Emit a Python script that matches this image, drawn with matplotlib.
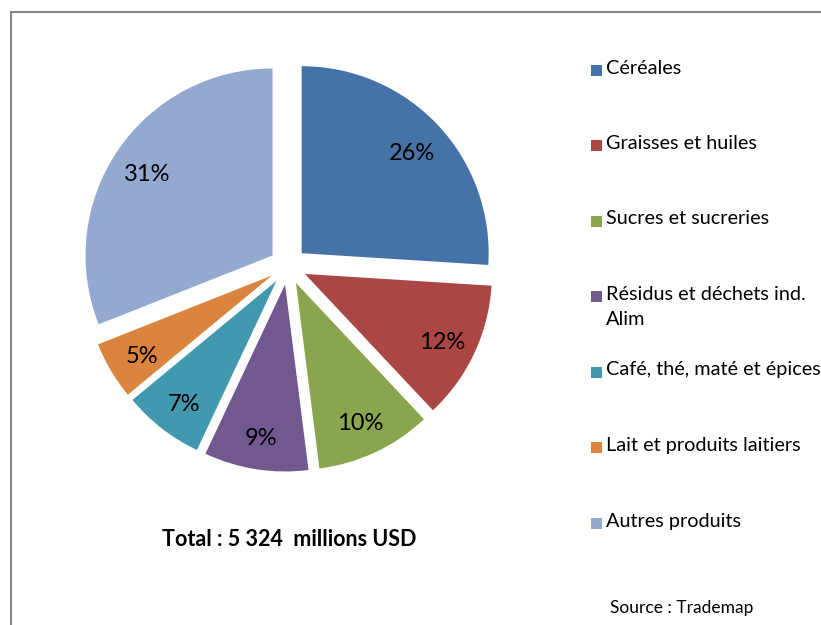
import matplotlib.pyplot as plt
from matplotlib.patches import Rectangle

categories = ["Céréales", "Graisses et huiles", "Sucres et sucreries",
              "Résidus et déchets ind.\nAlim", "Café, thé, maté et épices",
              "Lait et produits laitiers", "Autres produits"]
shares = [26, 12, 10, 9, 7, 5, 31]
colors = ["#4572A7", "#AA4643", "#89A54E", "#71588F", "#4198AF", "#DB843D", "#93A9CF"]

plt.rcParams['font.family'] = ['Lato', 'DejaVu Sans']

W, H = 821, 625
fig = plt.figure(figsize=(W / 100, H / 100), dpi=100)

# pie centre (px) and radius (px)
cx, cy, r = 288, 266, 187
ax = fig.add_axes([0, 0, 1, 1])

wedges, texts, autotexts = ax.pie(
    shares, colors=colors, startangle=90, counterclock=False,
    explode=[0.1] * len(shares), radius=1, autopct='%d%%', pctdistance=0.81,
    textprops=dict(fontsize=17, color='black'), wedgeprops=dict(linewidth=0))
for t in autotexts:
    x, y = t.get_position()
    t.set_position((x, y - 4 / r))
ax.set_xlim(-cx / r, (W - cx) / r)
ax.set_ylim((cy - H) / r, cy / r)
ax.axis('off')

# legend, drawn entry by entry like Excel
y0, step = 70.5, 75.5
for i, (lab, col) in enumerate(zip(categories, colors)):
    y = y0 + i * step
    fig.add_artist(Rectangle((591 / W, 1 - (y + 5) / H), 11 / W, 11 / H,
                             transform=fig.transFigure, color=col, lw=0))
    fig.text(606 / W, 1 - (y - 11) / H, lab, fontsize=14.3, va='top', ha='left',
             linespacing=1.55)

fig.text(289 / W, 1 - 539 / H, "Total : 5 324  millions USD", fontsize=15.5,
         fontweight='bold', ha='center', va='center')
fig.text(610 / W, 1 - 608 / H, "Source : Trademap", fontsize=12.5, ha='left', va='center')

# chart frame
fig.add_artist(Rectangle((11 / W, -0.1), 1.2, 1 - 12 / H + 0.1, transform=fig.transFigure,
                         fill=False, edgecolor='#868686', lw=1.5))

fig.savefig("out.png", dpi=100)
